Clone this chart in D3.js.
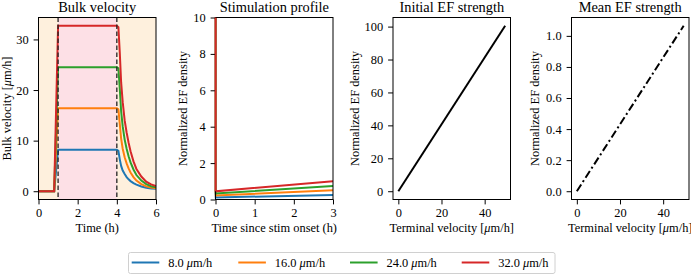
<!DOCTYPE html>
<html lang="en">
<head>
<meta charset="UTF-8">
<title>EF stimulation panels</title>
<script src="https://d3js.org/d3.v7.min.js"></script>
<style>
    body, html { margin: 0; padding: 0; background: #fff; }
    svg text { font-family: "Liberation Serif", "Times New Roman", serif; fill: #000; }
    .axis path, .axis line { stroke: #000; stroke-width: 1; }
</style>
</head>
<body>
<div id="chart"></div>
<script>
// ---- data ----
const seriesNames = ["8.0", "16.0", "24.0", "32.0"];
const colors = ["#1f77b4", "#ff7f0e", "#2ca02c", "#d62728"];

// bulk velocity (um/h) over time (h)
const bulkTime = [0, 0.8, 1.0, 4.0, 4.08, 4.15, 4.22, 4.3, 4.4, 4.5, 4.6, 4.7, 4.85, 5.0, 5.25, 5.5, 5.75, 6.0];
const bulkBlue   = [0, 0, 8.2, 8.2, 8.0, 6.3, 5.0, 4.1, 3.4, 2.8, 2.35, 2.0, 1.6, 1.3, 0.95, 0.7, 0.55, 0.47];
const bulkOrange = [0, 0, 16.4, 16.4, 16.2, 13.3, 10.4, 8.4, 6.7, 5.5, 4.5, 3.7, 2.8, 2.1, 1.4, 0.95, 0.72, 0.6];
const bulkGreen  = [0, 0, 24.5, 24.5, 24.3, 20.3, 15.8, 12.8, 10.2, 8.4, 6.9, 5.7, 4.3, 3.2, 2.1, 1.4, 1.0, 0.8];
const bulkRed    = [0, 0, 32.7, 32.7, 32.4, 27.4, 21.5, 17.6, 14.0, 11.6, 9.6, 7.9, 5.9, 4.4, 2.9, 1.9, 1.35, 1.0];
const bulkSeries = [bulkBlue, bulkOrange, bulkGreen, bulkRed];
const stimWindow = [1, 4];

// stimulation profile: spike at onset, then slow linear rise
const stimTime = [0, 0, 3];
const stimBlue   = [16.6, 0.11, 0.25];
const stimOrange = [33.3, 0.22, 0.51];
const stimGreen  = [50.0, 0.33, 0.74];
const stimRed    = [66.5, 0.45, 1.0];
const stimSeries = [stimBlue, stimOrange, stimGreen, stimRed];

// EF strength vs terminal velocity
const termVel = [0, 49.5];
const initialEF = [0, 100.5];
const meanEF = [0, 1.065];

// ---- layout ----
const W = 691, H = 275;
const axTop = 17.5, axBottom = 199.5, pw = 117.5;
const lefts = [38.5, 215.5, 393, 571.5];
const fs = 12.4;
const serif = '"Liberation Serif", "Times New Roman", serif';

const svg = d3.select("#chart").append("svg")
    .attr("width", W).attr("height", H);

function margin5(lo, hi) {
    const m = (hi - lo) * 0.05;
    return [lo - m, hi + m];
}

function styleAxis(a) {
    a.select(".domain").remove();
    a.attr("font-family", serif).attr("font-size", fs);
    a.selectAll("text").style("font-family", serif).style("font-size", fs + "px");
}

function panel(i, xDom, yDom, title, xLabel, yLabel, xTicks, yTicks, yFmt) {
    const x = d3.scaleLinear().domain(xDom).range([lefts[i], lefts[i] + pw]);
    const y = d3.scaleLinear().domain(yDom).range([axBottom, axTop]);
    const g = svg.append("g");
    const clipId = "clip" + i;
    svg.append("clipPath").attr("id", clipId).append("rect")
        .attr("x", lefts[i] - 1).attr("y", axTop).attr("width", pw + 1).attr("height", axBottom - axTop);
    const plot = g.append("g").attr("clip-path", `url(#${clipId})`);

    g.append("text").attr("x", lefts[i] + pw / 2).attr("y", 12)
        .attr("text-anchor", "middle").style("font-size", "14.4px").text(title);
    const xl = g.append("text").attr("x", lefts[i] + pw / 2).attr("y", 231.5)
        .attr("text-anchor", "middle").style("font-size", fs + "px");
    xLabel(xl);
    const yl = g.append("text")
        .attr("transform", `translate(${yLabel.x},${(axTop + axBottom) / 2}) rotate(-90)`)
        .attr("text-anchor", "middle").style("font-size", fs + "px");
    yLabel.fill(yl);

    return { x, y, g, plot, finish: () => {
        g.append("rect").attr("x", lefts[i]).attr("y", axTop).attr("width", pw).attr("height", axBottom - axTop)
            .attr("fill", "none").attr("stroke", "#000").attr("stroke-width", 1);
        g.append("g").attr("class", "axis").attr("transform", `translate(0,${axBottom})`)
            .call(d3.axisBottom(x).tickValues(xTicks).tickSize(4.9).tickPadding(4.2).tickFormat(d3.format("d")))
            .call(styleAxis);
        g.append("g").attr("class", "axis").attr("transform", `translate(${lefts[i]},0)`)
            .call(d3.axisLeft(y).tickValues(yTicks).tickSize(4.9).tickPadding(5).tickFormat(d3.format(yFmt)))
            .call(styleAxis);
    }};
}

function muLabel(prefix, suffix) {
    return t => {
        t.append("tspan").text(prefix);
        t.append("tspan").style("font-style", "italic").text("μ");
        t.append("tspan").text(suffix);
    };
}

// panel 1: bulk velocity
const p1 = panel(0, [0, 6], margin5(0, 32.7), "Bulk velocity",
    t => t.text("Time (h)"), { x: 10.5, fill: muLabel("Bulk velocity [", "m/h]") },
    [0, 2, 4, 6], [0, 10, 20, 30], "d");
p1.plot.append("rect").attr("x", p1.x(0)).attr("y", axTop).attr("width", p1.x(6) - p1.x(0))
    .attr("height", axBottom - axTop).attr("fill", "#fef0dd");
p1.plot.append("rect").attr("x", p1.x(stimWindow[0])).attr("y", axTop)
    .attr("width", p1.x(stimWindow[1]) - p1.x(stimWindow[0]))
    .attr("height", axBottom - axTop).attr("fill", "#fde0e6");
const line1 = d3.line().x((d, j) => p1.x(bulkTime[j])).y(d => p1.y(d));
bulkSeries.forEach((s, k) => {
    p1.plot.append("path").attr("d", line1(s)).attr("fill", "none")
        .attr("stroke", colors[k]).attr("stroke-width", 2);
});
stimWindow.forEach(t => {
    p1.plot.append("line").attr("x1", p1.x(t)).attr("x2", p1.x(t)).attr("y1", axTop).attr("y2", axBottom)
        .attr("stroke", "#222").attr("stroke-width", 1.3).attr("stroke-dasharray", "4.5,2.5");
});
p1.finish();

// panel 2: stimulation profile
const p2 = panel(1, [0, 3], [0, 10], "Stimulation profile",
    t => t.text("Time since stim onset (h)"), { x: 187, fill: t => t.text("Normalized EF density") },
    [0, 1, 2, 3], [0, 2, 4, 6, 8, 10], "d");
const line2 = d3.line().x((d, j) => p2.x(stimTime[j])).y(d => p2.y(d));
stimSeries.forEach((s, k) => {
    p2.plot.append("path").attr("d", line2(s)).attr("fill", "none")
        .attr("stroke", colors[k]).attr("stroke-width", 2);
});
p2.finish();
// onset spike sits on top of the left spine
p2.g.append("line").attr("x1", p2.x(0)).attr("x2", p2.x(0))
    .attr("y1", axTop).attr("y2", p2.y(stimRed[1]))
    .attr("stroke", colors[3]).attr("stroke-width", 1.4);

// panel 3: initial EF strength
const p3 = panel(2, margin5(0, 49.5), margin5(0, 100.5), "Initial EF strength",
    muLabel("Terminal velocity [", "m/h]"), { x: 359, fill: t => t.text("Normalized EF density") },
    [0, 20, 40], [0, 20, 40, 60, 80, 100], "d");
const line3 = d3.line().x((d, j) => p3.x(termVel[j])).y(d => p3.y(d));
p3.plot.append("path").attr("d", line3(initialEF)).attr("fill", "none")
    .attr("stroke", "#000").attr("stroke-width", 2);
p3.finish();

// panel 4: mean EF strength
const p4 = panel(3, margin5(0, 49.5), margin5(0, 1.065), "Mean EF strength",
    muLabel("Terminal velocity [", "m/h]"), { x: 538.5, fill: t => t.text("Normalized EF density") },
    [0, 20, 40], [0, 0.2, 0.4, 0.6, 0.8, 1.0], ".1f");
const line4 = d3.line().x((d, j) => p4.x(termVel[j])).y(d => p4.y(d));
p4.plot.append("path").attr("d", line4(meanEF)).attr("fill", "none")
    .attr("stroke", "#000").attr("stroke-width", 2).attr("stroke-dasharray", "8,3,2,3");
p4.finish();

// ---- legend ----
const legend = svg.append("g");
legend.append("rect").attr("x", 128.5).attr("y", 252.5).attr("width", 426.5).attr("height", 21)
    .attr("rx", 2).attr("fill", "#fff").attr("stroke", "#d0d0d0").attr("stroke-width", 1);
const legX = [131.7, 238.3, 350, 461.7];
seriesNames.forEach((n, k) => {
    legend.append("line").attr("x1", legX[k]).attr("x2", legX[k] + 27.6)
        .attr("y1", 262.5).attr("y2", 262.5).attr("stroke", colors[k]).attr("stroke-width", 2);
    const t = legend.append("text").attr("x", legX[k] + 36.5).attr("y", 266.8).style("font-size", fs + "px");
    t.append("tspan").text(n + " ");
    t.append("tspan").style("font-style", "italic").text("μ");
    t.append("tspan").text("m/h");
});
</script>
</body>
</html>
